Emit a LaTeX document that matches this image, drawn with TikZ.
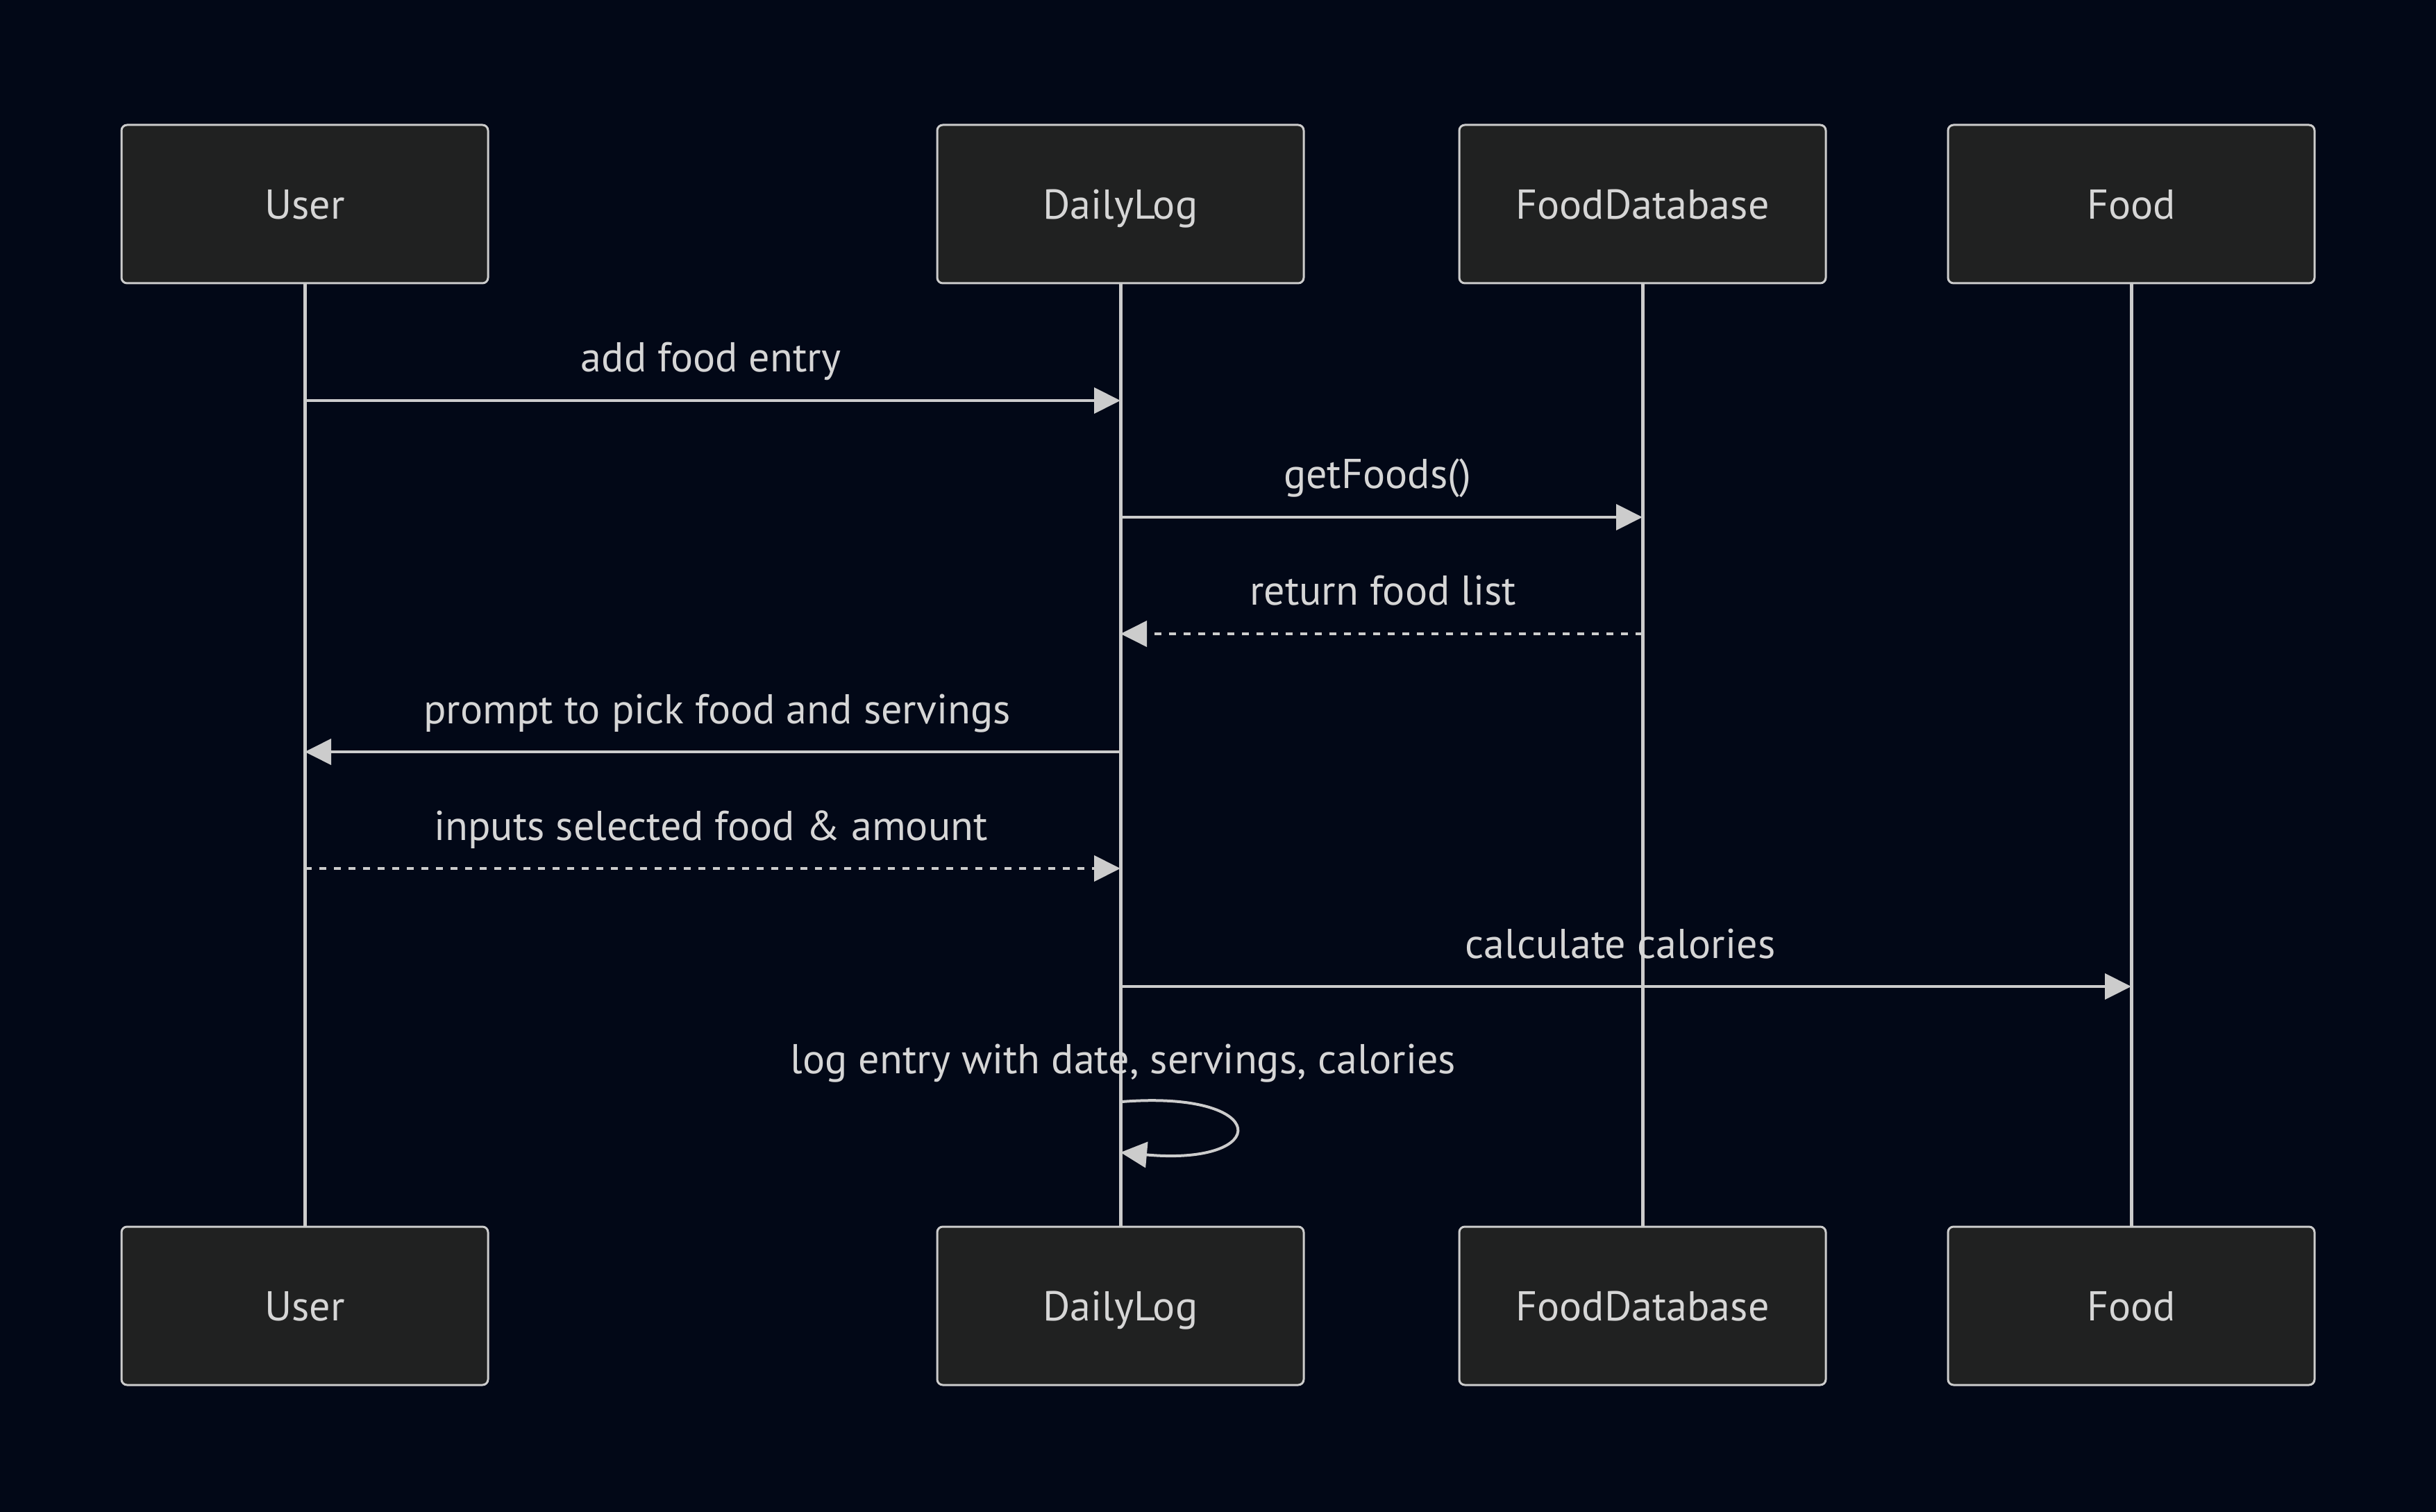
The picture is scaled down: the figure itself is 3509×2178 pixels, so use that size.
\documentclass[tikz,border=0pt]{standalone}
\usepackage{fontspec}
\setmainfont{PT Sans}
\usetikzlibrary{arrows.meta}
\definecolor{bg}{HTML}{020817}
\definecolor{boxfill}{HTML}{202121}
\definecolor{ln}{HTML}{CCCCCC}
\definecolor{txt}{HTML}{D6D6D6}
\begin{document}
\begin{tikzpicture}[x=0.1mm,y=-0.1mm,
  actor/.style={draw=ln, line width=0.3mm, fill=boxfill, rounded corners=0.8mm,
    minimum width=52.8mm, minimum height=22.8mm, text=txt,
    text height=12pt, text depth=0pt, font=\fontsize{17.1}{20}\selectfont},
  life/.style={draw=ln, line width=0.5mm},
  msg/.style={draw=ln, line width=0.4mm, -{Triangle[length=3.8mm,width=3.7mm]}},
  dashmsg/.style={msg, dash pattern=on 1mm off 1.1mm},
  lbl/.style={text=txt, inner sep=0pt, anchor=base, font=\fontsize{17.1}{20}\selectfont}]
\fill[bg] (0,0) rectangle (3509,2178);
\useasboundingbox (0,0) rectangle (3509,2178);
% lifelines first
\coordinate (ut) at (439,407); \coordinate (ub) at (439,1766);
\coordinate (dt) at (1614,407); \coordinate (db) at (1614,1766);
\coordinate (ft) at (2366,407); \coordinate (fb) at (2366,1766);
\coordinate (ot) at (3070,407); \coordinate (ob) at (3070,1766);
\draw[life] (ut) -- (ub);
\draw[life] (dt) -- (db);
\draw[life] (ft) -- (fb);
\draw[life] (ot) -- (ob);
% actors
\node[actor] (u1) at (439,294) {User};
\node[actor] (d1) at (1614,294) {DailyLog};
\node[actor] (f1) at (2366,294) {FoodDatabase};
\node[actor] (o1) at (3070,294) {Food};
\node[actor] (u2) at (439,1881) {User};
\node[actor] (d2) at (1614,1881) {DailyLog};
\node[actor] (f2) at (2366,1881) {FoodDatabase};
\node[actor] (o2) at (3070,1881) {Food};
% message endpoints
\coordinate (u-1) at (439,577);  \coordinate (d-1) at (1614,577);
\coordinate (d-2) at (1614,745); \coordinate (f-2) at (2366,745);
\coordinate (f-3) at (2366,913); \coordinate (d-3) at (1614,913);
\coordinate (d-4) at (1614,1083); \coordinate (u-4) at (439,1083);
\coordinate (u-5) at (439,1251); \coordinate (d-5) at (1614,1251);
\coordinate (d-6) at (1614,1421); \coordinate (o-6) at (3070,1421);
\coordinate (d-7a) at (1616,1587); \coordinate (d-7b) at (1614,1660);
% messages
\draw[msg] (u-1) -- (d-1);
\node[lbl] (l1) at (1024,536) {add food entry};
\draw[msg] (d-2) -- (f-2);
\node[lbl] (l2) at (1984,704) {getFoods()};
\draw[dashmsg] (f-3) -- (d-3);
\node[lbl] (l3) at (1992,872) {return food list};
\draw[msg] (d-4) -- (u-4);
\node[lbl] (l4) at (1033,1042) {prompt to pick food and servings};
\draw[dashmsg] (u-5) -- (d-5);
\node[lbl] (l5) at (1024,1210) {inputs selected food \& amount};
\draw[msg] (d-6) -- (o-6);
\node[lbl] (l6) at (2334,1380) {calculate calories};
\draw[msg] (d-7a) .. controls (1833,1570) and (1833,1680) .. (d-7b);
\node[lbl] (l7) at (1618,1546) {log entry with date, servings, calories};
\end{tikzpicture}
\end{document}
